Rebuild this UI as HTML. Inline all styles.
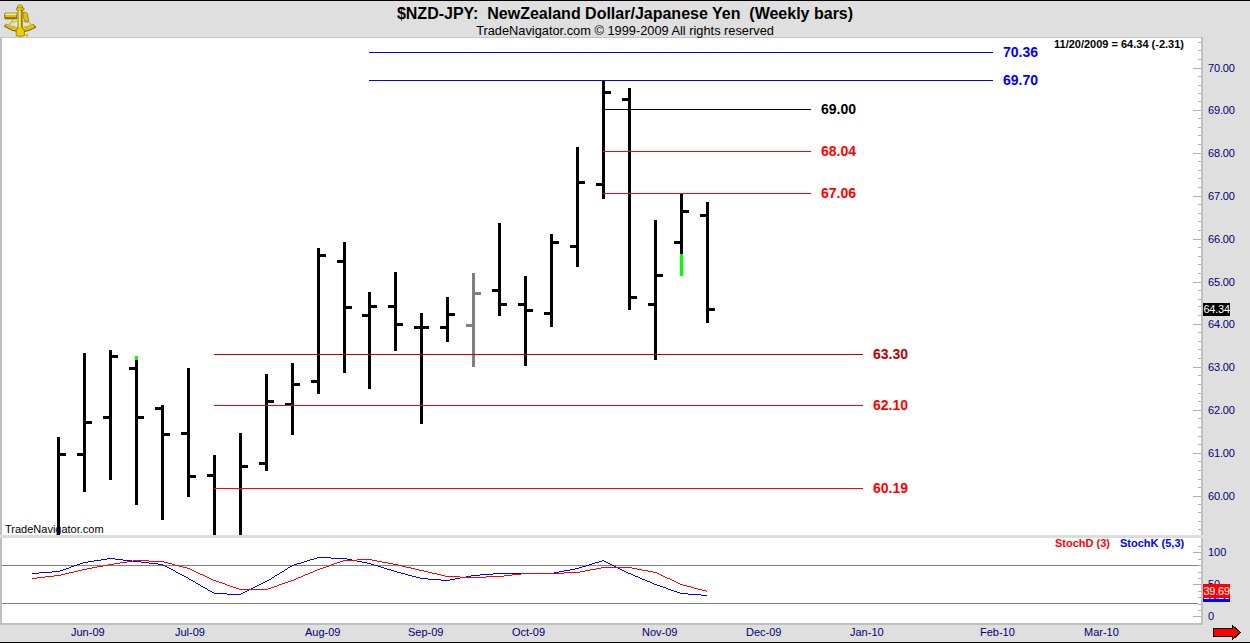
<!DOCTYPE html>
<html><head><meta charset="utf-8"><style>html,body{margin:0;padding:0;background:#dfdfdf;overflow:hidden;width:1250px;height:643px} text{font-family:"Liberation Sans",sans-serif;white-space:pre}</style></head>
<body><svg width="1250" height="643" viewBox="0 0 1250 643" style="display:block" font-family="Liberation Sans, sans-serif"><rect x="0" y="0" width="1250" height="643" fill="#dfdfdf"/><rect x="0" y="0" width="1250" height="1" fill="#000"/><rect x="0" y="642" width="1250" height="1" fill="#000"/><rect x="0" y="37" width="1203" height="1" fill="#c4c4c4"/><rect x="2" y="38" width="1199" height="497" fill="#ffffff"/><rect x="0" y="38" width="2" height="497" fill="#c0c0c0"/><rect x="0" y="535" width="1201" height="3" fill="#dcdcdc"/><rect x="2" y="538" width="1199" height="85" fill="#ffffff"/><rect x="0" y="538" width="2" height="85" fill="#c0c0c0"/><rect x="0" y="623" width="1203" height="2" fill="#c0c0c0"/><rect x="1201" y="37" width="2" height="498" fill="#c0c0c0"/><rect x="1201" y="538" width="2" height="87" fill="#c0c0c0"/><rect x="1198" y="42" width="3" height="1" fill="#b0b0b0"/><rect x="1198" y="50" width="3" height="1" fill="#b0b0b0"/><rect x="1198" y="59" width="3" height="1" fill="#b0b0b0"/><rect x="1193" y="68" width="8" height="1" fill="#b0b0b0"/><rect x="1198" y="76" width="3" height="1" fill="#b0b0b0"/><rect x="1198" y="85" width="3" height="1" fill="#b0b0b0"/><rect x="1198" y="93" width="3" height="1" fill="#b0b0b0"/><rect x="1198" y="101" width="3" height="1" fill="#b0b0b0"/><rect x="1193" y="110" width="8" height="1" fill="#b0b0b0"/><rect x="1198" y="118" width="3" height="1" fill="#b0b0b0"/><rect x="1198" y="127" width="3" height="1" fill="#b0b0b0"/><rect x="1198" y="135" width="3" height="1" fill="#b0b0b0"/><rect x="1198" y="144" width="3" height="1" fill="#b0b0b0"/><rect x="1193" y="153" width="8" height="1" fill="#b0b0b0"/><rect x="1198" y="161" width="3" height="1" fill="#b0b0b0"/><rect x="1198" y="170" width="3" height="1" fill="#b0b0b0"/><rect x="1198" y="178" width="3" height="1" fill="#b0b0b0"/><rect x="1198" y="187" width="3" height="1" fill="#b0b0b0"/><rect x="1193" y="196" width="8" height="1" fill="#b0b0b0"/><rect x="1198" y="204" width="3" height="1" fill="#b0b0b0"/><rect x="1198" y="213" width="3" height="1" fill="#b0b0b0"/><rect x="1198" y="221" width="3" height="1" fill="#b0b0b0"/><rect x="1198" y="230" width="3" height="1" fill="#b0b0b0"/><rect x="1193" y="239" width="8" height="1" fill="#b0b0b0"/><rect x="1198" y="247" width="3" height="1" fill="#b0b0b0"/><rect x="1198" y="256" width="3" height="1" fill="#b0b0b0"/><rect x="1198" y="264" width="3" height="1" fill="#b0b0b0"/><rect x="1198" y="273" width="3" height="1" fill="#b0b0b0"/><rect x="1193" y="282" width="8" height="1" fill="#b0b0b0"/><rect x="1198" y="290" width="3" height="1" fill="#b0b0b0"/><rect x="1198" y="299" width="3" height="1" fill="#b0b0b0"/><rect x="1198" y="306" width="3" height="1" fill="#b0b0b0"/><rect x="1198" y="315" width="3" height="1" fill="#b0b0b0"/><rect x="1193" y="324" width="8" height="1" fill="#b0b0b0"/><rect x="1198" y="332" width="3" height="1" fill="#b0b0b0"/><rect x="1198" y="341" width="3" height="1" fill="#b0b0b0"/><rect x="1198" y="349" width="3" height="1" fill="#b0b0b0"/><rect x="1198" y="358" width="3" height="1" fill="#b0b0b0"/><rect x="1193" y="367" width="8" height="1" fill="#b0b0b0"/><rect x="1198" y="375" width="3" height="1" fill="#b0b0b0"/><rect x="1198" y="384" width="3" height="1" fill="#b0b0b0"/><rect x="1198" y="393" width="3" height="1" fill="#b0b0b0"/><rect x="1198" y="401" width="3" height="1" fill="#b0b0b0"/><rect x="1193" y="410" width="8" height="1" fill="#b0b0b0"/><rect x="1198" y="418" width="3" height="1" fill="#b0b0b0"/><rect x="1198" y="427" width="3" height="1" fill="#b0b0b0"/><rect x="1198" y="436" width="3" height="1" fill="#b0b0b0"/><rect x="1198" y="444" width="3" height="1" fill="#b0b0b0"/><rect x="1193" y="453" width="8" height="1" fill="#b0b0b0"/><rect x="1198" y="461" width="3" height="1" fill="#b0b0b0"/><rect x="1198" y="470" width="3" height="1" fill="#b0b0b0"/><rect x="1198" y="479" width="3" height="1" fill="#b0b0b0"/><rect x="1198" y="487" width="3" height="1" fill="#b0b0b0"/><rect x="1193" y="496" width="8" height="1" fill="#b0b0b0"/><rect x="1198" y="504" width="3" height="1" fill="#b0b0b0"/><rect x="1198" y="512" width="3" height="1" fill="#b0b0b0"/><rect x="1198" y="521" width="3" height="1" fill="#b0b0b0"/><rect x="1198" y="529" width="3" height="1" fill="#b0b0b0"/><text x="1208" y="500" font-size="11" font-weight="normal" fill="#000070" text-anchor="start" letter-spacing="-0.15">60.00</text><text x="1208" y="457" font-size="11" font-weight="normal" fill="#000070" text-anchor="start" letter-spacing="-0.15">61.00</text><text x="1208" y="414" font-size="11" font-weight="normal" fill="#000070" text-anchor="start" letter-spacing="-0.15">62.00</text><text x="1208" y="371" font-size="11" font-weight="normal" fill="#000070" text-anchor="start" letter-spacing="-0.15">63.00</text><text x="1208" y="328" font-size="11" font-weight="normal" fill="#000070" text-anchor="start" letter-spacing="-0.15">64.00</text><text x="1208" y="286" font-size="11" font-weight="normal" fill="#000070" text-anchor="start" letter-spacing="-0.15">65.00</text><text x="1208" y="243" font-size="11" font-weight="normal" fill="#000070" text-anchor="start" letter-spacing="-0.15">66.00</text><text x="1208" y="200" font-size="11" font-weight="normal" fill="#000070" text-anchor="start" letter-spacing="-0.15">67.00</text><text x="1208" y="157" font-size="11" font-weight="normal" fill="#000070" text-anchor="start" letter-spacing="-0.15">68.00</text><text x="1208" y="114" font-size="11" font-weight="normal" fill="#000070" text-anchor="start" letter-spacing="-0.15">69.00</text><text x="1208" y="72" font-size="11" font-weight="normal" fill="#000070" text-anchor="start" letter-spacing="-0.15">70.00</text><rect x="1193" y="616" width="8" height="1" fill="#b0b0b0"/><rect x="1198" y="610" width="3" height="1" fill="#b0b0b0"/><rect x="1198" y="604" width="3" height="1" fill="#b0b0b0"/><rect x="1198" y="597" width="3" height="1" fill="#b0b0b0"/><rect x="1198" y="591" width="3" height="1" fill="#b0b0b0"/><rect x="1193" y="584" width="8" height="1" fill="#b0b0b0"/><rect x="1198" y="578" width="3" height="1" fill="#b0b0b0"/><rect x="1198" y="572" width="3" height="1" fill="#b0b0b0"/><rect x="1198" y="565" width="3" height="1" fill="#b0b0b0"/><rect x="1198" y="559" width="3" height="1" fill="#b0b0b0"/><rect x="1193" y="552" width="8" height="1" fill="#b0b0b0"/><rect x="1198" y="546" width="3" height="1" fill="#b0b0b0"/><rect x="2" y="565" width="1196" height="1" fill="#808080"/><rect x="2" y="603" width="1196" height="1" fill="#808080"/><text x="1208" y="556" font-size="11" font-weight="normal" fill="#000070" text-anchor="start" >100</text><text x="1208" y="588" font-size="11" font-weight="normal" fill="#000070" text-anchor="start" >50</text><text x="1208" y="620" font-size="11" font-weight="normal" fill="#000070" text-anchor="start" >0</text><text x="71" y="636" font-size="11" font-weight="normal" fill="#000070" text-anchor="start" >Jun-09</text><text x="175" y="636" font-size="11" font-weight="normal" fill="#000070" text-anchor="start" >Jul-09</text><text x="305" y="636" font-size="11" font-weight="normal" fill="#000070" text-anchor="start" >Aug-09</text><text x="408" y="636" font-size="11" font-weight="normal" fill="#000070" text-anchor="start" >Sep-09</text><text x="512" y="636" font-size="11" font-weight="normal" fill="#000070" text-anchor="start" >Oct-09</text><text x="642" y="636" font-size="11" font-weight="normal" fill="#000070" text-anchor="start" >Nov-09</text><text x="746" y="636" font-size="11" font-weight="normal" fill="#000070" text-anchor="start" >Dec-09</text><text x="850" y="636" font-size="11" font-weight="normal" fill="#000070" text-anchor="start" >Jan-10</text><text x="980" y="636" font-size="11" font-weight="normal" fill="#000070" text-anchor="start" >Feb-10</text><text x="1084" y="636" font-size="11" font-weight="normal" fill="#000070" text-anchor="start" >Mar-10</text><text x="625" y="19" font-size="16" font-weight="bold" fill="#000" text-anchor="middle" style="white-space:pre">$NZD-JPY:  NewZealand Dollar/Japanese Yen  (Weekly bars)</text><text x="625" y="35" font-size="12.8" font-weight="normal" fill="#000" text-anchor="middle" >TradeNavigator.com © 1999-2009 All rights reserved</text><text x="5" y="533" font-size="11" font-weight="normal" fill="#000" text-anchor="start" >TradeNavigator.com</text><rect x="57" y="437" width="3" height="98" fill="#000"/><rect x="60" y="453" width="6" height="3" fill="#000"/><rect x="83" y="353" width="3" height="139" fill="#000"/><rect x="77" y="453" width="6" height="3" fill="#000"/><rect x="86" y="421" width="6" height="3" fill="#000"/><rect x="109" y="350" width="3" height="130" fill="#000"/><rect x="103" y="416" width="6" height="3" fill="#000"/><rect x="112" y="355" width="6" height="3" fill="#000"/><rect x="135" y="356" width="3" height="149" fill="#000"/><rect x="129" y="367" width="6" height="3" fill="#000"/><rect x="138" y="416" width="6" height="3" fill="#000"/><rect x="161" y="405" width="3" height="115" fill="#000"/><rect x="155" y="407" width="6" height="3" fill="#000"/><rect x="164" y="433" width="6" height="3" fill="#000"/><rect x="187" y="368" width="3" height="129" fill="#000"/><rect x="181" y="432" width="6" height="3" fill="#000"/><rect x="190" y="475" width="6" height="3" fill="#000"/><rect x="213" y="455" width="3" height="80" fill="#000"/><rect x="207" y="474" width="6" height="3" fill="#000"/><rect x="239" y="433" width="3" height="102" fill="#000"/><rect x="242" y="465" width="6" height="3" fill="#000"/><rect x="265" y="374" width="3" height="97" fill="#000"/><rect x="259" y="462" width="6" height="3" fill="#000"/><rect x="268" y="400" width="6" height="3" fill="#000"/><rect x="291" y="363" width="3" height="72" fill="#000"/><rect x="285" y="403" width="6" height="3" fill="#000"/><rect x="294" y="383" width="6" height="3" fill="#000"/><rect x="317" y="248" width="3" height="146" fill="#000"/><rect x="311" y="380" width="6" height="3" fill="#000"/><rect x="320" y="254" width="6" height="3" fill="#000"/><rect x="343" y="242" width="3" height="131" fill="#000"/><rect x="337" y="260" width="6" height="3" fill="#000"/><rect x="346" y="306" width="6" height="3" fill="#000"/><rect x="368" y="292" width="3" height="97" fill="#000"/><rect x="362" y="314" width="6" height="3" fill="#000"/><rect x="371" y="305" width="6" height="3" fill="#000"/><rect x="394" y="272" width="3" height="79" fill="#000"/><rect x="388" y="305" width="6" height="3" fill="#000"/><rect x="397" y="323" width="6" height="3" fill="#000"/><rect x="420" y="313" width="3" height="111" fill="#000"/><rect x="414" y="326" width="6" height="3" fill="#000"/><rect x="423" y="326" width="6" height="3" fill="#000"/><rect x="446" y="297" width="3" height="45" fill="#000"/><rect x="440" y="326" width="6" height="3" fill="#000"/><rect x="449" y="313" width="6" height="3" fill="#000"/><rect x="472" y="273" width="3" height="94" fill="#808080"/><rect x="466" y="324" width="6" height="3" fill="#808080"/><rect x="475" y="292" width="6" height="3" fill="#808080"/><rect x="498" y="223" width="3" height="93" fill="#000"/><rect x="492" y="289" width="6" height="3" fill="#000"/><rect x="501" y="303" width="6" height="3" fill="#000"/><rect x="524" y="276" width="3" height="90" fill="#000"/><rect x="518" y="303" width="6" height="3" fill="#000"/><rect x="527" y="309" width="6" height="3" fill="#000"/><rect x="550" y="234" width="3" height="93" fill="#000"/><rect x="544" y="312" width="6" height="3" fill="#000"/><rect x="553" y="241" width="6" height="3" fill="#000"/><rect x="576" y="147" width="3" height="120" fill="#000"/><rect x="570" y="245" width="6" height="3" fill="#000"/><rect x="579" y="181" width="6" height="3" fill="#000"/><rect x="602" y="80" width="3" height="119" fill="#000"/><rect x="596" y="183" width="6" height="3" fill="#000"/><rect x="605" y="91" width="6" height="3" fill="#000"/><rect x="628" y="88" width="3" height="222" fill="#000"/><rect x="622" y="98" width="6" height="3" fill="#000"/><rect x="631" y="296" width="6" height="3" fill="#000"/><rect x="654" y="220" width="3" height="140" fill="#000"/><rect x="648" y="303" width="6" height="3" fill="#000"/><rect x="657" y="274" width="6" height="3" fill="#000"/><rect x="680" y="194" width="3" height="82" fill="#000"/><rect x="674" y="241" width="6" height="3" fill="#000"/><rect x="683" y="210" width="6" height="3" fill="#000"/><rect x="706" y="202" width="3" height="121" fill="#000"/><rect x="700" y="214" width="6" height="3" fill="#000"/><rect x="709" y="308" width="6" height="3" fill="#000"/><rect x="135" y="356" width="3" height="4" fill="#00ff00"/><rect x="680" y="254" width="3" height="22" fill="#00ff00"/><rect x="369" y="52" width="624" height="1" fill="#0000ff"/><rect x="369" y="80" width="624" height="1" fill="#0000ff"/><rect x="603" y="109" width="208" height="1" fill="#000000"/><rect x="603" y="151" width="208" height="1" fill="#ff0000"/><rect x="603" y="193" width="208" height="1" fill="#ff0000"/><rect x="214" y="354" width="649" height="1" fill="#c00000"/><rect x="214" y="405" width="649" height="1" fill="#ff0000"/><rect x="214" y="488" width="649" height="1" fill="#ff0000"/><text x="1003" y="57" font-size="14" font-weight="bold" fill="#0000ff" text-anchor="start" >70.36</text><text x="1003" y="85" font-size="14" font-weight="bold" fill="#0000ff" text-anchor="start" >69.70</text><text x="821" y="114" font-size="14" font-weight="bold" fill="#000000" text-anchor="start" >69.00</text><text x="821" y="156" font-size="14" font-weight="bold" fill="#ff0000" text-anchor="start" >68.04</text><text x="821" y="198" font-size="14" font-weight="bold" fill="#ff0000" text-anchor="start" >67.06</text><text x="873" y="359" font-size="14" font-weight="bold" fill="#c00000" text-anchor="start" >63.30</text><text x="873" y="410" font-size="14" font-weight="bold" fill="#ff0000" text-anchor="start" >62.10</text><text x="873" y="493" font-size="14" font-weight="bold" fill="#ff0000" text-anchor="start" >60.19</text><text x="1054" y="48" font-size="11" font-weight="bold" fill="#000" text-anchor="start" >11/20/2009 = 64.34 (-2.31)</text><rect x="1203" y="303" width="27" height="13" fill="#000"/><text x="1203.5" y="313" font-size="11" font-weight="normal" fill="#fff" text-anchor="start" letter-spacing="-0.25">64.34</text><rect x="80" y="563" width="3" height="1" fill="#0000ff"/><rect x="149" y="563" width="9" height="1" fill="#0000ff"/><rect x="297" y="563" width="4" height="1" fill="#0000ff"/><rect x="367" y="563" width="4" height="1" fill="#0000ff"/><rect x="592" y="563" width="3" height="1" fill="#0000ff"/><rect x="608" y="563" width="2" height="1" fill="#0000ff"/><rect x="189" y="579" width="2" height="1" fill="#0000ff"/><rect x="269" y="579" width="2" height="1" fill="#0000ff"/><rect x="428" y="579" width="13" height="1" fill="#0000ff"/><rect x="450" y="579" width="5" height="1" fill="#0000ff"/><rect x="642" y="579" width="3" height="1" fill="#0000ff"/><rect x="101" y="559" width="6" height="1" fill="#0000ff"/><rect x="115" y="559" width="8" height="1" fill="#0000ff"/><rect x="310" y="559" width="4" height="1" fill="#0000ff"/><rect x="347" y="559" width="5" height="1" fill="#0000ff"/><rect x="188" y="578" width="1" height="1" fill="#0000ff"/><rect x="271" y="578" width="1" height="1" fill="#0000ff"/><rect x="420" y="578" width="8" height="1" fill="#0000ff"/><rect x="455" y="578" width="5" height="1" fill="#0000ff"/><rect x="640" y="578" width="2" height="1" fill="#0000ff"/><rect x="203" y="587" width="2" height="1" fill="#0000ff"/><rect x="253" y="587" width="2" height="1" fill="#0000ff"/><rect x="663" y="587" width="3" height="1" fill="#0000ff"/><rect x="69" y="567" width="2" height="1" fill="#0000ff"/><rect x="167" y="567" width="2" height="1" fill="#0000ff"/><rect x="288" y="567" width="2" height="1" fill="#0000ff"/><rect x="381" y="567" width="3" height="1" fill="#0000ff"/><rect x="579" y="567" width="3" height="1" fill="#0000ff"/><rect x="616" y="567" width="2" height="1" fill="#0000ff"/><rect x="184" y="576" width="2" height="1" fill="#0000ff"/><rect x="274" y="576" width="1" height="1" fill="#0000ff"/><rect x="412" y="576" width="4" height="1" fill="#0000ff"/><rect x="466" y="576" width="5" height="1" fill="#0000ff"/><rect x="635" y="576" width="3" height="1" fill="#0000ff"/><rect x="180" y="574" width="2" height="1" fill="#0000ff"/><rect x="277" y="574" width="2" height="1" fill="#0000ff"/><rect x="405" y="574" width="3" height="1" fill="#0000ff"/><rect x="480" y="574" width="13" height="1" fill="#0000ff"/><rect x="631" y="574" width="2" height="1" fill="#0000ff"/><rect x="60" y="570" width="3" height="1" fill="#0000ff"/><rect x="173" y="570" width="2" height="1" fill="#0000ff"/><rect x="284" y="570" width="1" height="1" fill="#0000ff"/><rect x="391" y="570" width="3" height="1" fill="#0000ff"/><rect x="564" y="570" width="6" height="1" fill="#0000ff"/><rect x="622" y="570" width="2" height="1" fill="#0000ff"/><rect x="71" y="566" width="3" height="1" fill="#0000ff"/><rect x="165" y="566" width="2" height="1" fill="#0000ff"/><rect x="290" y="566" width="2" height="1" fill="#0000ff"/><rect x="378" y="566" width="3" height="1" fill="#0000ff"/><rect x="582" y="566" width="4" height="1" fill="#0000ff"/><rect x="614" y="566" width="2" height="1" fill="#0000ff"/><rect x="201" y="586" width="2" height="1" fill="#0000ff"/><rect x="255" y="586" width="2" height="1" fill="#0000ff"/><rect x="660" y="586" width="3" height="1" fill="#0000ff"/><rect x="198" y="584" width="2" height="1" fill="#0000ff"/><rect x="259" y="584" width="2" height="1" fill="#0000ff"/><rect x="654" y="584" width="3" height="1" fill="#0000ff"/><rect x="32" y="573" width="7" height="1" fill="#0000ff"/><rect x="178" y="573" width="2" height="1" fill="#0000ff"/><rect x="279" y="573" width="1" height="1" fill="#0000ff"/><rect x="401" y="573" width="4" height="1" fill="#0000ff"/><rect x="493" y="573" width="61" height="1" fill="#0000ff"/><rect x="628" y="573" width="3" height="1" fill="#0000ff"/><rect x="227" y="594" width="14" height="1" fill="#0000ff"/><rect x="688" y="594" width="13" height="1" fill="#0000ff"/><rect x="94" y="560" width="7" height="1" fill="#0000ff"/><rect x="123" y="560" width="9" height="1" fill="#0000ff"/><rect x="307" y="560" width="3" height="1" fill="#0000ff"/><rect x="352" y="560" width="5" height="1" fill="#0000ff"/><rect x="602" y="560" width="2" height="1" fill="#0000ff"/><rect x="88" y="561" width="6" height="1" fill="#0000ff"/><rect x="132" y="561" width="9" height="1" fill="#0000ff"/><rect x="304" y="561" width="3" height="1" fill="#0000ff"/><rect x="357" y="561" width="5" height="1" fill="#0000ff"/><rect x="599" y="561" width="3" height="1" fill="#0000ff"/><rect x="604" y="561" width="2" height="1" fill="#0000ff"/><rect x="74" y="565" width="3" height="1" fill="#0000ff"/><rect x="163" y="565" width="2" height="1" fill="#0000ff"/><rect x="292" y="565" width="2" height="1" fill="#0000ff"/><rect x="374" y="565" width="4" height="1" fill="#0000ff"/><rect x="586" y="565" width="3" height="1" fill="#0000ff"/><rect x="612" y="565" width="2" height="1" fill="#0000ff"/><rect x="200" y="585" width="1" height="1" fill="#0000ff"/><rect x="257" y="585" width="2" height="1" fill="#0000ff"/><rect x="657" y="585" width="3" height="1" fill="#0000ff"/><rect x="39" y="572" width="13" height="1" fill="#0000ff"/><rect x="176" y="572" width="2" height="1" fill="#0000ff"/><rect x="280" y="572" width="2" height="1" fill="#0000ff"/><rect x="397" y="572" width="4" height="1" fill="#0000ff"/><rect x="554" y="572" width="5" height="1" fill="#0000ff"/><rect x="626" y="572" width="2" height="1" fill="#0000ff"/><rect x="210" y="591" width="2" height="1" fill="#0000ff"/><rect x="245" y="591" width="2" height="1" fill="#0000ff"/><rect x="674" y="591" width="3" height="1" fill="#0000ff"/><rect x="83" y="562" width="5" height="1" fill="#0000ff"/><rect x="141" y="562" width="8" height="1" fill="#0000ff"/><rect x="301" y="562" width="3" height="1" fill="#0000ff"/><rect x="362" y="562" width="5" height="1" fill="#0000ff"/><rect x="595" y="562" width="4" height="1" fill="#0000ff"/><rect x="606" y="562" width="2" height="1" fill="#0000ff"/><rect x="66" y="568" width="3" height="1" fill="#0000ff"/><rect x="169" y="568" width="2" height="1" fill="#0000ff"/><rect x="287" y="568" width="1" height="1" fill="#0000ff"/><rect x="384" y="568" width="3" height="1" fill="#0000ff"/><rect x="575" y="568" width="4" height="1" fill="#0000ff"/><rect x="618" y="568" width="2" height="1" fill="#0000ff"/><rect x="317" y="557" width="14" height="1" fill="#0000ff"/><rect x="52" y="571" width="8" height="1" fill="#0000ff"/><rect x="175" y="571" width="1" height="1" fill="#0000ff"/><rect x="282" y="571" width="2" height="1" fill="#0000ff"/><rect x="394" y="571" width="3" height="1" fill="#0000ff"/><rect x="559" y="571" width="5" height="1" fill="#0000ff"/><rect x="624" y="571" width="2" height="1" fill="#0000ff"/><rect x="107" y="558" width="8" height="1" fill="#0000ff"/><rect x="314" y="558" width="3" height="1" fill="#0000ff"/><rect x="331" y="558" width="16" height="1" fill="#0000ff"/><rect x="191" y="580" width="2" height="1" fill="#0000ff"/><rect x="267" y="580" width="2" height="1" fill="#0000ff"/><rect x="441" y="580" width="9" height="1" fill="#0000ff"/><rect x="645" y="580" width="2" height="1" fill="#0000ff"/><rect x="214" y="593" width="13" height="1" fill="#0000ff"/><rect x="241" y="593" width="2" height="1" fill="#0000ff"/><rect x="680" y="593" width="8" height="1" fill="#0000ff"/><rect x="186" y="577" width="2" height="1" fill="#0000ff"/><rect x="272" y="577" width="2" height="1" fill="#0000ff"/><rect x="416" y="577" width="4" height="1" fill="#0000ff"/><rect x="460" y="577" width="6" height="1" fill="#0000ff"/><rect x="638" y="577" width="2" height="1" fill="#0000ff"/><rect x="207" y="589" width="1" height="1" fill="#0000ff"/><rect x="249" y="589" width="2" height="1" fill="#0000ff"/><rect x="668" y="589" width="3" height="1" fill="#0000ff"/><rect x="205" y="588" width="2" height="1" fill="#0000ff"/><rect x="251" y="588" width="2" height="1" fill="#0000ff"/><rect x="666" y="588" width="2" height="1" fill="#0000ff"/><rect x="208" y="590" width="2" height="1" fill="#0000ff"/><rect x="247" y="590" width="2" height="1" fill="#0000ff"/><rect x="671" y="590" width="3" height="1" fill="#0000ff"/><rect x="182" y="575" width="2" height="1" fill="#0000ff"/><rect x="275" y="575" width="2" height="1" fill="#0000ff"/><rect x="408" y="575" width="4" height="1" fill="#0000ff"/><rect x="471" y="575" width="9" height="1" fill="#0000ff"/><rect x="633" y="575" width="2" height="1" fill="#0000ff"/><rect x="212" y="592" width="2" height="1" fill="#0000ff"/><rect x="243" y="592" width="2" height="1" fill="#0000ff"/><rect x="677" y="592" width="3" height="1" fill="#0000ff"/><rect x="77" y="564" width="3" height="1" fill="#0000ff"/><rect x="158" y="564" width="5" height="1" fill="#0000ff"/><rect x="294" y="564" width="3" height="1" fill="#0000ff"/><rect x="371" y="564" width="3" height="1" fill="#0000ff"/><rect x="589" y="564" width="3" height="1" fill="#0000ff"/><rect x="610" y="564" width="2" height="1" fill="#0000ff"/><rect x="63" y="569" width="3" height="1" fill="#0000ff"/><rect x="171" y="569" width="2" height="1" fill="#0000ff"/><rect x="285" y="569" width="2" height="1" fill="#0000ff"/><rect x="387" y="569" width="4" height="1" fill="#0000ff"/><rect x="570" y="569" width="5" height="1" fill="#0000ff"/><rect x="620" y="569" width="2" height="1" fill="#0000ff"/><rect x="701" y="595" width="6" height="1" fill="#0000ff"/><rect x="196" y="583" width="2" height="1" fill="#0000ff"/><rect x="261" y="583" width="2" height="1" fill="#0000ff"/><rect x="652" y="583" width="2" height="1" fill="#0000ff"/><rect x="193" y="581" width="2" height="1" fill="#0000ff"/><rect x="265" y="581" width="2" height="1" fill="#0000ff"/><rect x="647" y="581" width="3" height="1" fill="#0000ff"/><rect x="195" y="582" width="1" height="1" fill="#0000ff"/><rect x="263" y="582" width="2" height="1" fill="#0000ff"/><rect x="650" y="582" width="2" height="1" fill="#0000ff"/><rect x="114" y="563" width="6" height="1" fill="#ff0000"/><rect x="168" y="563" width="4" height="1" fill="#ff0000"/><rect x="334" y="563" width="3" height="1" fill="#ff0000"/><rect x="388" y="563" width="5" height="1" fill="#ff0000"/><rect x="239" y="589" width="29" height="1" fill="#ff0000"/><rect x="698" y="589" width="4" height="1" fill="#ff0000"/><rect x="357" y="559" width="15" height="1" fill="#ff0000"/><rect x="230" y="586" width="3" height="1" fill="#ff0000"/><rect x="274" y="586" width="3" height="1" fill="#ff0000"/><rect x="687" y="586" width="4" height="1" fill="#ff0000"/><rect x="54" y="575" width="7" height="1" fill="#ff0000"/><rect x="203" y="575" width="2" height="1" fill="#ff0000"/><rect x="303" y="575" width="2" height="1" fill="#ff0000"/><rect x="441" y="575" width="4" height="1" fill="#ff0000"/><rect x="504" y="575" width="8" height="1" fill="#ff0000"/><rect x="661" y="575" width="2" height="1" fill="#ff0000"/><rect x="211" y="579" width="2" height="1" fill="#ff0000"/><rect x="294" y="579" width="2" height="1" fill="#ff0000"/><rect x="670" y="579" width="2" height="1" fill="#ff0000"/><rect x="97" y="566" width="6" height="1" fill="#ff0000"/><rect x="179" y="566" width="4" height="1" fill="#ff0000"/><rect x="326" y="566" width="3" height="1" fill="#ff0000"/><rect x="402" y="566" width="4" height="1" fill="#ff0000"/><rect x="74" y="571" width="4" height="1" fill="#ff0000"/><rect x="194" y="571" width="2" height="1" fill="#ff0000"/><rect x="313" y="571" width="2" height="1" fill="#ff0000"/><rect x="424" y="571" width="4" height="1" fill="#ff0000"/><rect x="580" y="571" width="5" height="1" fill="#ff0000"/><rect x="648" y="571" width="5" height="1" fill="#ff0000"/><rect x="133" y="560" width="16" height="1" fill="#ff0000"/><rect x="343" y="560" width="14" height="1" fill="#ff0000"/><rect x="372" y="560" width="5" height="1" fill="#ff0000"/><rect x="45" y="576" width="9" height="1" fill="#ff0000"/><rect x="205" y="576" width="2" height="1" fill="#ff0000"/><rect x="301" y="576" width="2" height="1" fill="#ff0000"/><rect x="445" y="576" width="15" height="1" fill="#ff0000"/><rect x="486" y="576" width="18" height="1" fill="#ff0000"/><rect x="663" y="576" width="2" height="1" fill="#ff0000"/><rect x="127" y="561" width="6" height="1" fill="#ff0000"/><rect x="149" y="561" width="15" height="1" fill="#ff0000"/><rect x="340" y="561" width="3" height="1" fill="#ff0000"/><rect x="377" y="561" width="5" height="1" fill="#ff0000"/><rect x="69" y="572" width="5" height="1" fill="#ff0000"/><rect x="196" y="572" width="2" height="1" fill="#ff0000"/><rect x="310" y="572" width="3" height="1" fill="#ff0000"/><rect x="428" y="572" width="4" height="1" fill="#ff0000"/><rect x="564" y="572" width="16" height="1" fill="#ff0000"/><rect x="653" y="572" width="4" height="1" fill="#ff0000"/><rect x="87" y="568" width="5" height="1" fill="#ff0000"/><rect x="187" y="568" width="3" height="1" fill="#ff0000"/><rect x="320" y="568" width="3" height="1" fill="#ff0000"/><rect x="411" y="568" width="4" height="1" fill="#ff0000"/><rect x="596" y="568" width="5" height="1" fill="#ff0000"/><rect x="632" y="568" width="5" height="1" fill="#ff0000"/><rect x="65" y="573" width="4" height="1" fill="#ff0000"/><rect x="198" y="573" width="2" height="1" fill="#ff0000"/><rect x="308" y="573" width="2" height="1" fill="#ff0000"/><rect x="432" y="573" width="5" height="1" fill="#ff0000"/><rect x="521" y="573" width="43" height="1" fill="#ff0000"/><rect x="657" y="573" width="2" height="1" fill="#ff0000"/><rect x="213" y="580" width="3" height="1" fill="#ff0000"/><rect x="291" y="580" width="3" height="1" fill="#ff0000"/><rect x="672" y="580" width="2" height="1" fill="#ff0000"/><rect x="37" y="577" width="8" height="1" fill="#ff0000"/><rect x="207" y="577" width="2" height="1" fill="#ff0000"/><rect x="298" y="577" width="3" height="1" fill="#ff0000"/><rect x="460" y="577" width="26" height="1" fill="#ff0000"/><rect x="665" y="577" width="2" height="1" fill="#ff0000"/><rect x="233" y="587" width="3" height="1" fill="#ff0000"/><rect x="271" y="587" width="3" height="1" fill="#ff0000"/><rect x="691" y="587" width="3" height="1" fill="#ff0000"/><rect x="82" y="569" width="5" height="1" fill="#ff0000"/><rect x="190" y="569" width="2" height="1" fill="#ff0000"/><rect x="317" y="569" width="3" height="1" fill="#ff0000"/><rect x="415" y="569" width="4" height="1" fill="#ff0000"/><rect x="590" y="569" width="6" height="1" fill="#ff0000"/><rect x="637" y="569" width="5" height="1" fill="#ff0000"/><rect x="120" y="562" width="7" height="1" fill="#ff0000"/><rect x="164" y="562" width="4" height="1" fill="#ff0000"/><rect x="337" y="562" width="3" height="1" fill="#ff0000"/><rect x="382" y="562" width="6" height="1" fill="#ff0000"/><rect x="61" y="574" width="4" height="1" fill="#ff0000"/><rect x="200" y="574" width="3" height="1" fill="#ff0000"/><rect x="305" y="574" width="3" height="1" fill="#ff0000"/><rect x="437" y="574" width="4" height="1" fill="#ff0000"/><rect x="512" y="574" width="9" height="1" fill="#ff0000"/><rect x="659" y="574" width="2" height="1" fill="#ff0000"/><rect x="78" y="570" width="4" height="1" fill="#ff0000"/><rect x="192" y="570" width="2" height="1" fill="#ff0000"/><rect x="315" y="570" width="2" height="1" fill="#ff0000"/><rect x="419" y="570" width="5" height="1" fill="#ff0000"/><rect x="585" y="570" width="5" height="1" fill="#ff0000"/><rect x="642" y="570" width="6" height="1" fill="#ff0000"/><rect x="222" y="583" width="3" height="1" fill="#ff0000"/><rect x="282" y="583" width="3" height="1" fill="#ff0000"/><rect x="678" y="583" width="2" height="1" fill="#ff0000"/><rect x="92" y="567" width="5" height="1" fill="#ff0000"/><rect x="183" y="567" width="4" height="1" fill="#ff0000"/><rect x="323" y="567" width="3" height="1" fill="#ff0000"/><rect x="406" y="567" width="5" height="1" fill="#ff0000"/><rect x="601" y="567" width="31" height="1" fill="#ff0000"/><rect x="32" y="578" width="5" height="1" fill="#ff0000"/><rect x="209" y="578" width="2" height="1" fill="#ff0000"/><rect x="296" y="578" width="2" height="1" fill="#ff0000"/><rect x="667" y="578" width="3" height="1" fill="#ff0000"/><rect x="108" y="564" width="6" height="1" fill="#ff0000"/><rect x="172" y="564" width="3" height="1" fill="#ff0000"/><rect x="331" y="564" width="3" height="1" fill="#ff0000"/><rect x="393" y="564" width="5" height="1" fill="#ff0000"/><rect x="216" y="581" width="3" height="1" fill="#ff0000"/><rect x="288" y="581" width="3" height="1" fill="#ff0000"/><rect x="674" y="581" width="2" height="1" fill="#ff0000"/><rect x="219" y="582" width="3" height="1" fill="#ff0000"/><rect x="285" y="582" width="3" height="1" fill="#ff0000"/><rect x="676" y="582" width="2" height="1" fill="#ff0000"/><rect x="103" y="565" width="5" height="1" fill="#ff0000"/><rect x="175" y="565" width="4" height="1" fill="#ff0000"/><rect x="329" y="565" width="2" height="1" fill="#ff0000"/><rect x="398" y="565" width="4" height="1" fill="#ff0000"/><rect x="702" y="590" width="4" height="1" fill="#ff0000"/><rect x="225" y="584" width="2" height="1" fill="#ff0000"/><rect x="279" y="584" width="3" height="1" fill="#ff0000"/><rect x="680" y="584" width="3" height="1" fill="#ff0000"/><rect x="236" y="588" width="3" height="1" fill="#ff0000"/><rect x="268" y="588" width="3" height="1" fill="#ff0000"/><rect x="694" y="588" width="4" height="1" fill="#ff0000"/><rect x="227" y="585" width="3" height="1" fill="#ff0000"/><rect x="277" y="585" width="2" height="1" fill="#ff0000"/><rect x="683" y="585" width="4" height="1" fill="#ff0000"/><rect x="706" y="591" width="1" height="1" fill="#ff0000"/><text x="1055" y="547" font-size="11" font-weight="bold" fill="#ff0000" text-anchor="start" >StochD (3)</text><text x="1120" y="547" font-size="11" font-weight="bold" fill="#0000ff" text-anchor="start" >StochK (5,3)</text><rect x="1203" y="588" width="27" height="14" fill="#0000ff"/><text x="1203.5" y="599" font-size="11" font-weight="normal" fill="#fff" text-anchor="start" letter-spacing="-0.25">28.23</text><rect x="1203" y="584" width="27" height="14" fill="#ff0000"/><text x="1203.5" y="595" font-size="11" font-weight="normal" fill="#fff" text-anchor="start" letter-spacing="-0.25">39.69</text><polygon points="1213.5,628.5 1232.5,628.5 1232.5,625.5 1240.5,632.5 1232.5,639.5 1232.5,636.5 1213.5,636.5" fill="#ff0000" stroke="#000" stroke-width="1.1" shape-rendering="crispEdges"/>
<g stroke-linejoin="round">
 <path d="M4.2,26.2 Q20,37 36,27.2 L32.8,24.3 Q20,31.5 6.4,24.4 Z" fill="#e6c200" stroke="#3a3000" stroke-width="0.7"/>
 <path d="M6.5,24.6 Q20,31.6 32.6,24.4" fill="none" stroke="#fff38a" stroke-width="0.8" opacity="0.8"/>
 <path d="M9,25 L18.5,12 M31,25 L23,12.5 M11.5,22.5 Q20,19.5 28.5,22.5" fill="none" stroke="#dcb800" stroke-width="1.1"/>
 <path d="M5,13.2 L16.8,13.2 L16.8,18.8 L5,18.8 Q4.3,16 5,13.2 Z" fill="#e2be00" stroke="#2a2200" stroke-width="0.6"/>
 <rect x="5.2" y="13.4" width="11.4" height="1.6" fill="#fff8a0" opacity="0.85"/>
 <rect x="5.2" y="17.2" width="11.4" height="1.4" fill="#7a6400" opacity="0.8"/>
 <path d="M22.8,12.5 Q25.5,11.5 27.5,13.5 L28.6,21 L25.2,22 L23.2,17 Z" fill="#e4c000" stroke="#5a4a00" stroke-width="0.5"/>
 <path d="M18.2,9.5 L22,9.5 L22.3,28 L24.4,30.5 L24.4,35.8 Q20.2,37 16.2,35.8 L16.2,30.5 L18,28 Z" fill="#f0cc00" stroke="#4a3c00" stroke-width="0.5"/>
 <ellipse cx="20" cy="6.9" rx="2.7" ry="2.1" fill="#f2d200" stroke="#5a4a00" stroke-width="0.5"/>
 <rect x="16.4" y="7.8" width="7.6" height="2.6" rx="1" fill="#eecc00" stroke="#4a3c00" stroke-width="0.5"/>
 <rect x="18.8" y="9.6" width="1.4" height="18" fill="#fff490" opacity="0.8"/>
 <rect x="21.2" y="9.6" width="1" height="18" fill="#6a5600" opacity="0.6"/>
 <path d="M25.6,35.2 L28,35.2 M27.2,33.8 L27.2,37" stroke="#d8b400" stroke-width="1.3"/>
</g>
</svg></body></html>
